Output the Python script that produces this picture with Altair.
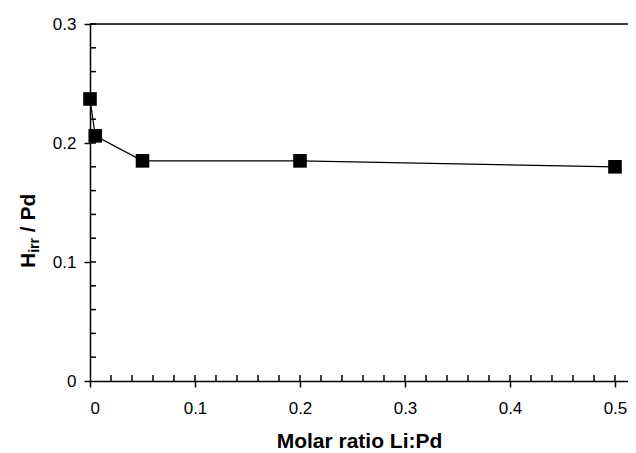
import altair as alt
import pandas as pd

# data
ratio = [0.0, 0.005, 0.05, 0.2, 0.5]
h_irr = [0.237, 0.206, 0.185, 0.185, 0.180]

x_major = [0.0, 0.1, 0.2, 0.3, 0.4, 0.5]
y_major = [0.0, 0.1, 0.2, 0.3]
x_minor = [0.02, 0.04, 0.06, 0.08, 0.1, 0.12, 0.14, 0.16, 0.18, 0.2, 0.22, 0.24,
           0.26, 0.28, 0.3, 0.32, 0.34, 0.36, 0.38, 0.4, 0.42, 0.44, 0.46, 0.48, 0.5]
y_minor = [0.02, 0.04, 0.06, 0.08, 0.1, 0.12, 0.14, 0.16, 0.18, 0.2, 0.22, 0.24,
           0.26, 0.28, 0.3]

W, H = 538, 357
XMAX = 0.5124
FONT = "Liberation Sans"

df = pd.DataFrame({"ratio": ratio, "h": h_irr})
dxm = pd.DataFrame({"xm": x_minor})
dym = pd.DataFrame({"ym": y_minor})
one = pd.DataFrame({"a": [0]})

xscale = alt.Scale(domain=[0, XMAX], nice=False, zero=False)
yscale = alt.Scale(domain=[0, 0.3], nice=False)

xaxis = alt.Axis(values=x_major, format="~g", title="Molar ratio Li:Pd",
                 grid=False, tickSize=6, labelPadding=13, titlePadding=14,
                 labelFontSize=17, titleFontSize=21, labelFont=FONT, titleFont=FONT,
                 titleFontWeight="bold", labelColor="black", titleColor="black",
                 domainColor="black", tickColor="black", domainWidth=1.5, tickWidth=1.5)
yaxis = alt.Axis(values=y_major, format="~g", title=None, grid=False, tickSize=6,
                 labelPadding=8, labelFontSize=17, labelFont=FONT, labelColor="black",
                 domainColor="black", tickColor="black", domainWidth=1.5, tickWidth=1.5)

line = alt.Chart(df).mark_line(color="black", strokeWidth=1.2).encode(
    x=alt.X("ratio:Q", scale=xscale, axis=xaxis),
    y=alt.Y("h:Q", scale=yscale, axis=yaxis),
)
pts = alt.Chart(df).mark_point(shape="square", filled=True, size=185, color="black",
                               opacity=1).encode(
    x=alt.X("ratio:Q", scale=xscale),
    y=alt.Y("h:Q", scale=yscale),
)

# inward minor ticks every 0.02
xmin_ticks = alt.Chart(dxm).mark_rule(color="black", strokeWidth=1.5).encode(
    x=alt.X("xm:Q", scale=xscale),
    y=alt.value(H), y2=alt.value(H - 6))
ymin_ticks = alt.Chart(dym).mark_rule(color="black", strokeWidth=1.5).encode(
    y=alt.Y("ym:Q", scale=yscale),
    x=alt.value(0), x2=alt.value(6))

top = alt.Chart(one).mark_rule(color="black", strokeWidth=1.5).encode(
    x=alt.value(0), x2=alt.value(W), y=alt.value(0))

ytx = -55
tH = alt.Chart(one).mark_text(angle=270, align="left", baseline="alphabetic",
                              font=FONT, fontSize=21, fontWeight="bold", color="black").encode(
    x=alt.value(ytx), y=alt.value(244), text=alt.value("H"))
tirr = alt.Chart(one).mark_text(angle=270, align="left", baseline="alphabetic",
                                font=FONT, fontSize=14, fontWeight="bold", color="black").encode(
    x=alt.value(ytx + 4), y=alt.value(244 - 15.2), text=alt.value("irr"))
tpd = alt.Chart(one).mark_text(angle=270, align="left", baseline="alphabetic",
                               font=FONT, fontSize=21, fontWeight="bold", color="black").encode(
    x=alt.value(ytx), y=alt.value(244 - 15.2 - 14.8 - 5.8), text=alt.value("/ Pd"))

chart = alt.layer(line, pts, xmin_ticks, ymin_ticks, top, tH, tirr, tpd).properties(
    width=W, height=H,
    autosize=alt.AutoSizeParams(type="none"),
    padding={"left": 82, "top": 16, "right": 0, "bottom": 70},
).configure_view(stroke=None).configure(background="white")

chart.save("out.html", embed_options={"renderer": "svg", "actions": False})
